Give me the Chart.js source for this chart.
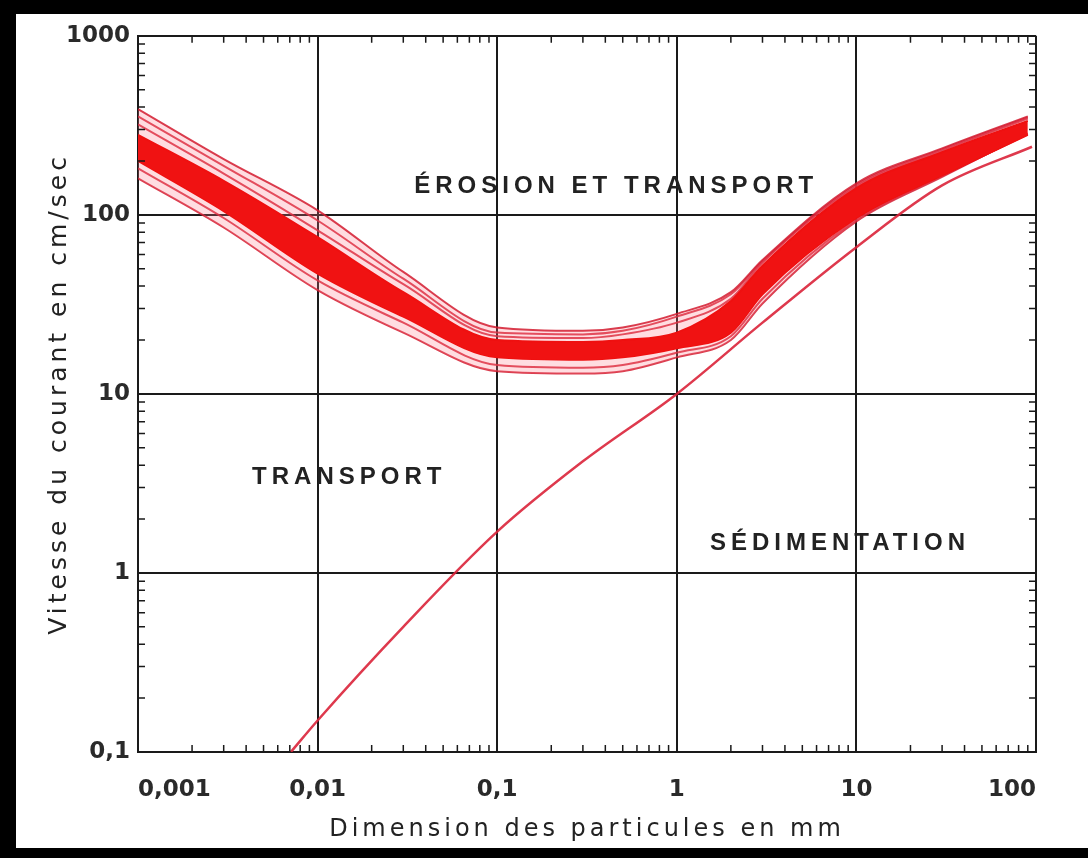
<!DOCTYPE html>
<html>
<head>
<meta charset="utf-8">
<script src="https://cdn.jsdelivr.net/npm/chart.js@4.4.0/dist/chart.umd.min.js"></script>
<style>
  html, body { margin: 0; padding: 0; background: #000; }
  #wrap { position: absolute; left: 16px; top: 14px; width: 1072px; height: 834px; background: #fff; }
</style>
</head>
<body>
<div id="wrap"><canvas id="myChart"></canvas></div>
<script>
// particle size (mm) where the erosion band was read
const bandX = [0.001, 0.003, 0.01, 0.03, 0.1, 0.3, 0.5, 1, 2, 3, 10, 30, 90];
// thin curves of the erosion band, top to bottom (cm/s)
const bandA = [390, 205, 106, 48, 23.5, 22.5, 23.5, 28, 37, 56, 150, 235, 355];
const bandB = [355, 188, 93, 44, 22, 21.5, 22.5, 27, 36, 55, 147, 232, 350];
const bandC = [320, 170, 82, 41, 21, 20.5, 21.5, 25, 34, 54, 144, 228, 345];
const bandD = [182, 96, 43, 25, 14.5, 14, 14.5, 17, 21, 34, 94, 165, 282];
const bandE = [160, 85, 38, 22, 13.4, 13, 13.4, 16, 20, 32, 92, 163, 285];
// thick core of the band
const coreTop = [280, 155, 75, 37, 20, 19.5, 20, 22, 33, 52, 141, 224, 335];
const coreBottom = [200, 105, 47, 27, 16, 15.5, 16, 18, 22, 36, 96, 166, 280];

// sedimentation curve
const sedX = [0.0071, 0.01, 0.03, 0.1, 0.3, 1, 3, 10, 30, 95];
const sedY = [0.1, 0.15, 0.5, 1.7, 4.2, 10, 25, 66, 146, 240];

// decade labels, French decimal comma
const xTickLabels = ['0,001', '0,01', '0,1', '1', '10', '100'];   // 10^-3 .. 10^2
const yTickLabels = ['0,1', '1', '10', '100', '1000'];            // 10^-1 .. 10^3

// region names and where they sit (data units)
const regionNames = ['ÉROSION ET TRANSPORT', 'TRANSPORT', 'SÉDIMENTATION'];
const regionX = [0.46, 0.015, 8.1];
const regionY = [145, 3.4, 1.47];

function pts(xs, ys) {
  return xs.map((x, i) => ({ x: x, y: ys[i] }));
}

function isDecade(v) {
  const e = Math.log10(v);
  return Math.abs(e - Math.round(e)) < 1e-6;
}

function decadeLabel(list, first) {
  return function (value) {
    if (!isDecade(value)) return '';
    const s = list[Math.round(Math.log10(value)) - first];
    return s === undefined ? '' : s;
  };
}

const thin = 'rgba(212, 28, 48, 0.85)';

function thinLine(label, ys, extra) {
  return Object.assign({
    label: label,
    data: pts(bandX, ys),
    borderColor: thin,
    borderWidth: 2,
    pointRadius: 0,
    cubicInterpolationMode: 'monotone',
    fill: false
  }, extra || {});
}

// spaced-out axis titles, plain tick labels (ticks are drawn after the datasets)
const frameTicks = {
  id: 'frameTicks',
  beforeDraw(chart) {
    chart.ctx.letterSpacing = '4px';
  },
  afterDatasetsDraw(chart) {
    chart.ctx.letterSpacing = '0px';
  },
  afterDraw(chart) {
    const { ctx, chartArea: a, scales: { x, y } } = chart;
    ctx.save();
    ctx.strokeStyle = '#1a1a1a';
    ctx.lineWidth = 1.5;
    ctx.beginPath();
    for (let e = -3; e < 2; e++) {
      for (let m = 2; m < 10; m++) {
        const px = x.getPixelForValue(m * Math.pow(10, e));
        ctx.moveTo(px, a.bottom); ctx.lineTo(px, a.bottom - 7);
        ctx.moveTo(px, a.top); ctx.lineTo(px, a.top + 7);
      }
    }
    for (let e = -1; e < 3; e++) {
      for (let m = 2; m < 10; m++) {
        const py = y.getPixelForValue(m * Math.pow(10, e));
        ctx.moveTo(a.left, py); ctx.lineTo(a.left + 7, py);
        ctx.moveTo(a.right, py); ctx.lineTo(a.right - 7, py);
      }
    }
    ctx.stroke();

    ctx.fillStyle = '#222';
    ctx.font = 'bold 24px "Liberation Sans"';
    ctx.letterSpacing = '5px';
    ctx.textAlign = 'center';
    ctx.textBaseline = 'middle';
    regionNames.forEach((name, i) => {
      ctx.fillText(name, x.getPixelForValue(regionX[i]), y.getPixelForValue(regionY[i]));
    });
    ctx.restore();
  }
};

const gridColor = c => (c.tick && isDecade(c.tick.value)) ? '#1a1a1a' : 'rgba(0,0,0,0)';

const ctx = document.getElementById('myChart').getContext('2d');
const myChart = new Chart(ctx, {
  type: 'line',
  data: {
    datasets: [
      {
        label: 'Sédimentation',
        data: pts(sedX, sedY),
        borderColor: 'rgba(218, 36, 58, 0.9)',
        borderWidth: 2.5,
        pointRadius: 0,
        cubicInterpolationMode: 'monotone',
        fill: false
      },
      {
        label: 'core top',
        data: pts(bandX, coreTop),
        borderColor: '#ef1010',
        backgroundColor: '#f01212',
        borderWidth: 2,
        pointRadius: 0,
        cubicInterpolationMode: 'monotone',
        fill: 2
      },
      {
        label: 'core bottom',
        data: pts(bandX, coreBottom),
        borderColor: '#ef1010',
        borderWidth: 2,
        pointRadius: 0,
        cubicInterpolationMode: 'monotone',
        fill: false
      },
      thinLine('A', bandA, { fill: 7, backgroundColor: 'rgba(255, 120, 135, 0.25)' }),
      thinLine('B', bandB),
      thinLine('C', bandC),
      thinLine('D', bandD),
      thinLine('E', bandE)
    ]
  },
  options: {
    responsive: true,
    maintainAspectRatio: false,
    animation: false,
    layout: { padding: { top: 21, right: 52, left: 0, bottom: 0 } },
    plugins: {
      legend: { display: false },
      tooltip: { enabled: false }
    },
    scales: {
      x: {
        type: 'logarithmic',
        min: 0.001,
        max: 100,
        afterFit: s => { s.height = 96; },
        border: { display: true, color: '#1a1a1a', width: 2 },
        grid: { color: gridColor, lineWidth: 2, drawTicks: false },
        ticks: {
          z: 1,
          autoSkip: false,
          maxRotation: 0,
          align: 'inner',
          padding: 24,
          color: '#2a2a2a',
          font: { family: '"DejaVu Sans"', size: 23, weight: 'bold' },
          callback: decadeLabel(xTickLabels, -3)
        },
        title: {
          display: true,
          text: 'Dimension des particules en mm',
          color: '#222',
          font: { family: '"DejaVu Sans"', size: 24 },
          padding: { top: 0, bottom: 4 }
        }
      },
      y: {
        type: 'logarithmic',
        min: 0.1,
        max: 1000,
        afterFit: s => { s.width = 122; },
        border: { display: true, color: '#1a1a1a', width: 2 },
        grid: { color: gridColor, lineWidth: 2, drawTicks: false },
        ticks: {
          z: 1,
          autoSkip: false,
          padding: 8,
          color: '#2a2a2a',
          font: { family: '"DejaVu Sans"', size: 23, weight: 'bold' },
          callback: decadeLabel(yTickLabels, -1)
        },
        title: {
          display: true,
          text: 'Vitesse du courant en cm/sec',
          color: '#222',
          font: { family: '"DejaVu Sans"', size: 25 },
          padding: { top: 28, bottom: 0 }
        }
      }
    }
  },
  plugins: [frameTicks]
});
</script>
</body>
</html>
